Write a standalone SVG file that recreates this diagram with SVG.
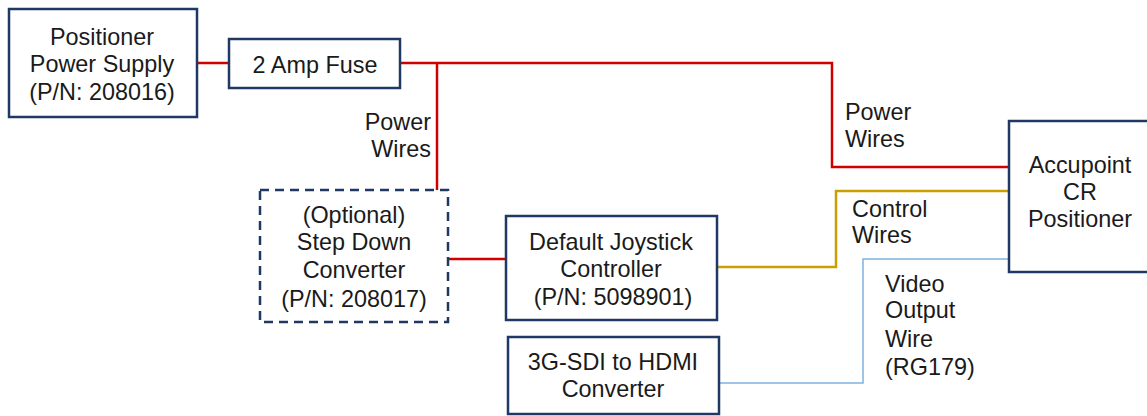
<svg xmlns="http://www.w3.org/2000/svg" width="1147" height="416" viewBox="0 0 1147 416">
<style>
.box{fill:#fff;stroke:#1F3864;stroke-width:2.5}
.dash{stroke-dasharray:9 6}
text{font-family:"Liberation Sans",Arial,sans-serif;font-size:23.4px;fill:#1a1a1a}
.c{text-anchor:middle}
.r{text-anchor:end}
.pw{fill:none;stroke:#D00000;stroke-width:2.5}
.cw{fill:none;stroke:#C9A000;stroke-width:2.5}
.vw{fill:none;stroke:#7FB2E0;stroke-width:1.5}
</style>
<rect width="1147" height="416" fill="#fff"/>
<g id="connectors">
<path class="pw" d="M196 63 H229"/>
<path class="pw" d="M400 63 H832 V167 H1008"/>
<path class="pw" d="M437 63 V190"/>
<path class="pw" d="M448 259 H506"/>
<path class="cw" d="M717 267 H836 V191 H1008"/>
<path class="vw" d="M720 383 H863 V259 H1008"/>
<text x="431" y="130" class="r">Power</text>
<text x="431" y="157" class="r">Wires</text>
<text x="845" y="120">Power</text>
<text x="845" y="147">Wires</text>
<text x="852" y="217">Control</text>
<text x="852" y="243">Wires</text>
<text x="885" y="292">Video</text>
<text x="885" y="318">Output</text>
<text x="885" y="347">Wire</text>
<text x="885" y="375">(RG179)</text>
</g>
<g id="power-supply">
<rect class="box" x="9" y="9" width="188" height="108"/>
<text x="102" y="45" class="c">Positioner</text>
<text x="102" y="72" class="c">Power Supply</text>
<text x="102" y="100" class="c">(P/N: 208016)</text>
</g>
<g id="fuse">
<rect class="box" x="229" y="39" width="171" height="49"/>
<text x="315" y="73" class="c">2 Amp Fuse</text>
</g>
<g id="step-down">
<rect class="box dash" x="260" y="190" width="188" height="132"/>
<text x="354" y="223" class="c">(Optional)</text>
<text x="354" y="250" class="c">Step Down</text>
<text x="354" y="278" class="c">Converter</text>
<text x="354" y="307" class="c">(P/N: 208017)</text>
</g>
<g id="joystick">
<rect class="box" x="506" y="216" width="211" height="104"/>
<text x="611" y="250" class="c">Default Joystick</text>
<text x="611" y="277" class="c">Controller</text>
<text x="613" y="305" class="c">(P/N: 5098901)</text>
</g>
<g id="hdmi">
<rect class="box" x="508" y="337" width="211" height="77"/>
<text x="613" y="370" class="c">3G-SDI to HDMI</text>
<text x="613" y="397" class="c">Converter</text>
</g>
<g id="accupoint">
<rect class="box" x="1009" y="121" width="140" height="151"/>
<text x="1080" y="173" class="c">Accupoint</text>
<text x="1080" y="200" class="c">CR</text>
<text x="1080" y="227" class="c">Positioner</text>
</g>
</svg>
